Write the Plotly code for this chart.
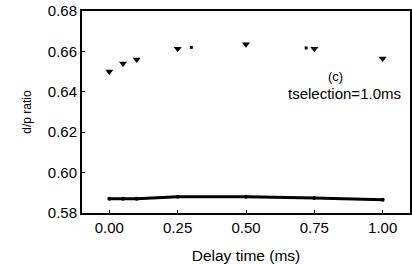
import plotly.graph_objects as go

tri_x = [0.0, 0.05, 0.10, 0.25, 0.50, 0.75, 1.00]
tri_y = [0.650, 0.654, 0.656, 0.6613, 0.6636, 0.6613, 0.6565]

dot_x = [0.30, 0.72]
dot_y = [0.6620, 0.6617]

line_x = [0.0, 0.05, 0.10, 0.25, 0.50, 0.75, 1.00]
line_y = [0.5870, 0.5870, 0.5870, 0.5880, 0.5881, 0.5874, 0.5865]

x_ticks = [0.0, 0.25, 0.50, 0.75, 1.00]
x_labels = ["0.00", "0.25", "0.50", "0.75", "1.00"]
y_ticks = [0.58, 0.60, 0.62, 0.64, 0.66, 0.68]
y_labels = ["0.58", "0.60", "0.62", "0.64", "0.66", "0.68"]

FONT = "Liberation Sans, Arial"

fig = go.Figure()
fig.add_trace(go.Scatter(x=line_x, y=line_y, mode="lines+markers",
                         line=dict(color="black", width=3),
                         marker=dict(color="black", size=4, symbol="circle"),
                         showlegend=False))
fig.add_trace(go.Scatter(x=tri_x, y=tri_y, mode="markers",
                         marker=dict(color="black", size=7, symbol="triangle-down"),
                         showlegend=False))
fig.add_trace(go.Scatter(x=dot_x, y=dot_y, mode="markers",
                         marker=dict(color="black", size=3, symbol="square"),
                         showlegend=False))

fig.add_annotation(x=0.829, y=0.6478, xref="x", yref="y", text="(c)", showarrow=False,
                   font=dict(family=FONT, size=13, color="black"))
fig.add_annotation(x=0.861, y=0.6392, xref="x", yref="y", text="tselection=1.0ms", showarrow=False,
                   font=dict(family=FONT, size=15, color="black"))

fig.update_layout(
    width=412, height=264,
    margin=dict(l=82, r=2, t=11, b=51),
    paper_bgcolor="white", plot_bgcolor="white",
    font=dict(family=FONT, size=15, color="black"),
    xaxis=dict(range=[-0.1, 1.1], tickvals=x_ticks, ticktext=x_labels, automargin=False,
               showgrid=False, zeroline=False, showline=True, linecolor="black", linewidth=2,
               mirror=True, ticks="inside", ticklen=3, tickcolor="black",
               tickfont=dict(size=15),
               title=dict(text="Delay time (ms)", font=dict(size=15.5), standoff=15)),
    yaxis=dict(range=[0.58, 0.68], tickvals=y_ticks, ticktext=y_labels, automargin=False,
               showgrid=False, zeroline=False, showline=True, linecolor="black", linewidth=2,
               mirror=True, ticks="inside", ticklen=3, tickcolor="black",
               tickfont=dict(size=15),
               title=dict(text="d/p ratio", font=dict(size=12), standoff=14)),
)
fig.write_html("out.html", config={"displayModeBar": False},
               post_script="document.body.style.margin='0';")
